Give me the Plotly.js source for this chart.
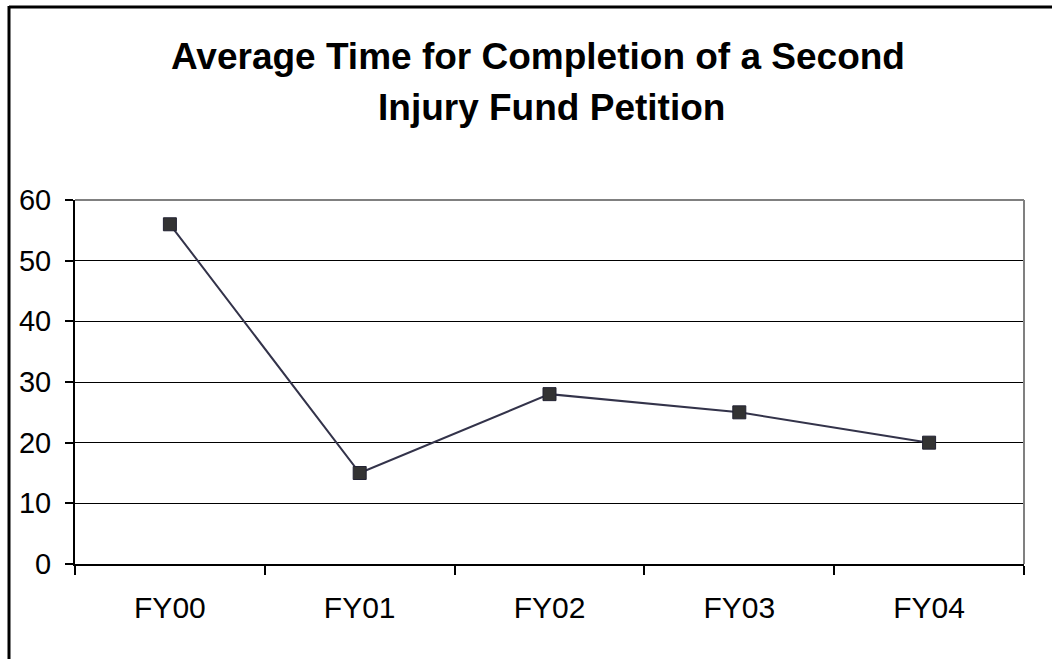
<!DOCTYPE html>
<html>
<head>
<meta charset="utf-8">
<script src="https://cdn.plot.ly/plotly-3.0.1.min.js"></script>
<style>
html,body{margin:0;padding:0;background:#fff;}
#chart{width:1052px;height:659px;}
</style>
</head>
<body>
<div id="chart"></div>
<script>
const categories = ["FY00", "FY01", "FY02", "FY03", "FY04"];
const avgTime = [56, 15, 28, 25, 20];
const yTicks = [0, 10, 20, 30, 40, 50, 60];
const titleLine1 = "Average Time for Completion of a Second";
const titleLine2 = "Injury Fund Petition";

const W = 1052, H = 659;
const L = 75, R = 1024, T = 200, B = 564;
const pw = R - L, ph = B - T;
const px = x => (x - L) / pw;
const py = y => (B - y) / ph;

const trace = {
  x: categories,
  y: avgTime,
  type: "scatter",
  mode: "lines+markers",
  line: {color: "#33334a", width: 2},
  marker: {symbol: "square", size: 13, color: "#333333", line: {color: "#222233", width: 1}},
  hoverinfo: "x+y"
};

const font = "Liberation Sans, Arial, sans-serif";

const layout = {
  width: W, height: H,
  margin: {l: L, r: W - R, t: T, b: H - B, pad: 0},
  paper_bgcolor: "#ffffff",
  plot_bgcolor: "#ffffff",
  showlegend: false,
  font: {family: font, color: "#000"},
  xaxis: {
    type: "category",
    categoryorder: "array",
    categoryarray: categories,
    tickson: "boundaries",
    ticks: "outside",
    ticklen: 9,
    tickwidth: 2,
    tickcolor: "#000",
    showline: true,
    linecolor: "#000",
    linewidth: 2,
    showgrid: false,
    zeroline: false,
    tickfont: {family: font, size: 30, color: "#000"},
    ticklabelstandoff: 16,
    range: [-0.5, 4.5],
    fixedrange: true
  },
  yaxis: {
    range: [0, 60],
    tickvals: yTicks,
    ticktext: yTicks.map(String),
    ticks: "outside",
    ticklen: 8,
    tickwidth: 2,
    tickcolor: "#000",
    showline: true,
    linecolor: "#000",
    linewidth: 2,
    showgrid: true,
    gridcolor: "#000",
    gridwidth: 1,
    zeroline: false,
    tickfont: {family: font, size: 29, color: "#000"},
    ticklabelstandoff: 8,
    fixedrange: true
  },
  shapes: [
    {type: "line", xref: "paper", yref: "paper", x0: 0, x1: 1, y0: 1, y1: 1, line: {color: "#808080", width: 2}, layer: "above"},
    {type: "line", xref: "paper", yref: "paper", x0: 1, x1: 1, y0: 0, y1: 1, line: {color: "#808080", width: 2}, layer: "above"},
    {type: "line", xref: "paper", yref: "paper", x0: px(9), x1: px(1060), y0: py(7), y1: py(7), line: {color: "#000", width: 3}},
    {type: "line", xref: "paper", yref: "paper", x0: px(9), x1: px(9), y0: py(6), y1: py(670), line: {color: "#000", width: 3}}
  ],
  annotations: [
    {text: "<b>" + titleLine1 + "</b>", xref: "paper", yref: "paper", x: px(538), y: py(56), xanchor: "center", yanchor: "middle", showarrow: false, font: {family: font, size: 37, color: "#000"}},
    {text: "<b>" + titleLine2 + "</b>", xref: "paper", yref: "paper", x: px(551), y: py(107), xanchor: "center", yanchor: "middle", showarrow: false, font: {family: font, size: 37, color: "#000"}}
  ]
};

Plotly.newPlot("chart", [trace], layout, {displayModeBar: false, staticPlot: true});
</script>
</body>
</html>
